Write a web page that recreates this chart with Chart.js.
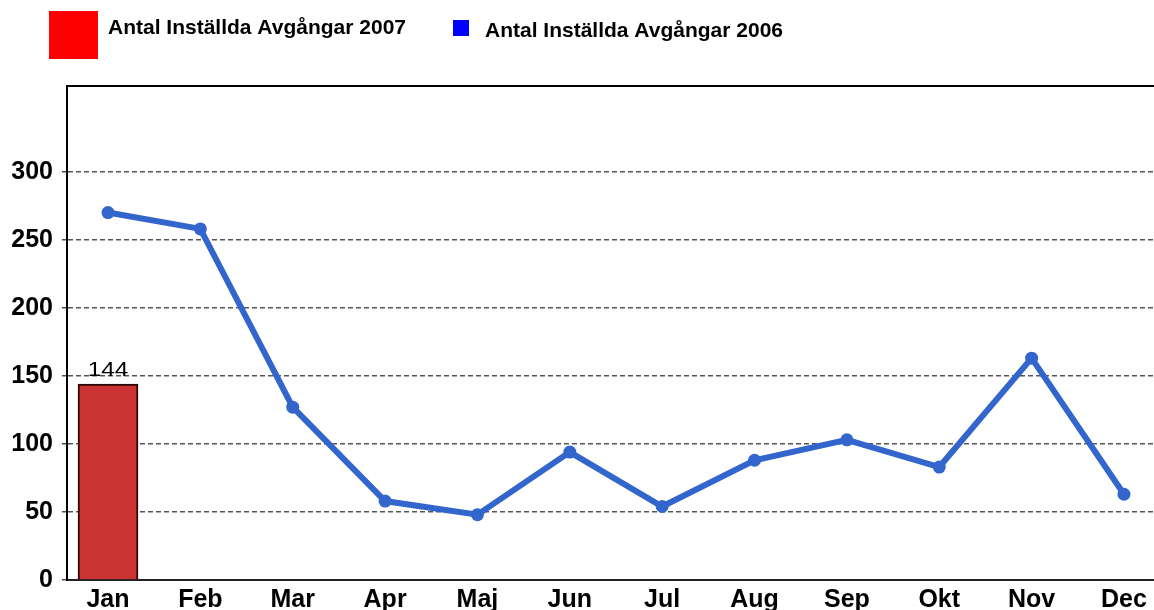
<!DOCTYPE html>
<html>
<head>
<meta charset="utf-8">
<script src="https://cdn.jsdelivr.net/npm/chart.js@4"></script>
<style>
  html, body { margin: 0; padding: 0; background: #fff; overflow: hidden; }
  #wrap { width: 1154px; height: 610px; position: relative; }
</style>
</head>
<body>
<div id="wrap"><canvas id="c" width="1154" height="610"></canvas></div>
<script>
const months = ['Jan','Feb','Mar','Apr','Maj','Jun','Jul','Aug','Sep','Okt','Nov','Dec'];
const cancelled2007 = [144];
const cancelled2006 = [270, 258, 127, 58, 48, 94, 54, 88, 103, 83, 163, 63];
const yTicks = [0, 50, 100, 150, 200, 250, 300];
const legendLabels = ['Antal Inställda Avgångar 2007', 'Antal Inställda Avgångar 2006'];

const FONT = "'Liberation Sans', Arial, sans-serif";

const legendPlugin = {
  id: 'customLegend',
  afterDraw(chart) {
    const ctx = chart.ctx;
    const a = chart.chartArea;
    ctx.save();
    // top border of plot
    ctx.strokeStyle = '#000';
    ctx.lineWidth = 2;
    ctx.beginPath();
    ctx.moveTo(a.left, a.top);
    ctx.lineTo(a.right, a.top);
    ctx.stroke();
    // legend
    ctx.fillStyle = '#ff0000';
    ctx.fillRect(49, 11, 49, 48);
    ctx.fillStyle = '#0000ff';
    ctx.fillRect(453, 20, 16, 16);
    ctx.fillStyle = '#000';
    ctx.font = 'bold 21px ' + FONT;
    ctx.textBaseline = 'middle';
    ctx.textAlign = 'left';
    ctx.fillText(legendLabels[0], 108, 28);
    ctx.fillText(legendLabels[1], 485, 31);
    ctx.restore();
  }
};

const barLabelPlugin = {
  id: 'barLabel',
  afterDatasetsDraw(chart) {
    const ctx = chart.ctx;
    const meta = chart.getDatasetMeta(0);
    meta.data.forEach((el, i) => {
      ctx.save();
      ctx.translate(el.x, el.y - 8);
      ctx.scale(1.22, 1);
      ctx.fillStyle = '#000';
      ctx.font = '20px ' + FONT;
      ctx.textAlign = 'center';
      ctx.textBaseline = 'alphabetic';
      ctx.fillText(String(cancelled2007[i]), 0, 0);
      ctx.restore();
    });
  }
};

new Chart(document.getElementById('c'), {
  type: 'bar',
  data: {
    datasets: [
      {
        type: 'bar',
        label: legendLabels[0],
        data: cancelled2007.map((v, i) => ({ x: i, y: v })),
        backgroundColor: '#cc3333',
        borderColor: '#2a0a0a',
        borderWidth: 2,
        barThickness: 60,
        order: 2
      },
      {
        type: 'line',
        label: legendLabels[1],
        data: cancelled2006.map((v, i) => ({ x: i, y: v })),
        borderColor: '#3366cc',
        backgroundColor: '#3366cc',
        borderWidth: 6,
        pointRadius: 6.5,
        pointHoverRadius: 6.5,
        pointBackgroundColor: '#3366cc',
        pointBorderWidth: 0,
        tension: 0,
        clip: false,
        order: 1
      }
    ]
  },
  options: {
    responsive: false,
    animation: false,
    layout: { autoPadding: false, padding: { top: 86, left: 0, right: 0, bottom: 0 } },
    plugins: { legend: { display: false }, tooltip: { enabled: false } },
    scales: {
      x: {
        type: 'linear',
        offset: false,
        min: -0.444,
        max: 11.325,
        afterBuildTicks: (axis) => { axis.ticks = months.map((m, i) => ({ value: i })); },
        afterFit: (s) => { s.height = 30; s.paddingLeft = 0; s.paddingRight = 0; },
        grid: { display: false, drawTicks: false, offset: false },
        border: { display: true, color: '#222', width: 2 },
        ticks: {
          autoSkip: false,
          maxRotation: 0,
          padding: 5,
          color: '#000',
          font: { family: FONT, size: 25, weight: 'bold' },
          callback: (v) => months[v] !== undefined ? months[v] : ''
        }
      },
      y: {
        min: 0,
        max: 363,
        afterBuildTicks: (axis) => { axis.ticks = yTicks.map(v => ({ value: v })); },
        afterFit: (s) => { s.width = 67; },
        grid: {
          color: '#555',
          lineWidth: 1.5,
          tickLength: 5,
          tickColor: '#555',
          tickBorderDash: [5, 3],
          drawOnChartArea: true
        },
        border: { display: true, color: '#000', width: 2, dash: [5, 3] },
        ticks: {
          padding: 9,
          color: '#000',
          font: { family: FONT, size: 25, weight: 'bold' }
        }
      }
    }
  },
  plugins: [legendPlugin, barLabelPlugin]
});
</script>
</body>
</html>
